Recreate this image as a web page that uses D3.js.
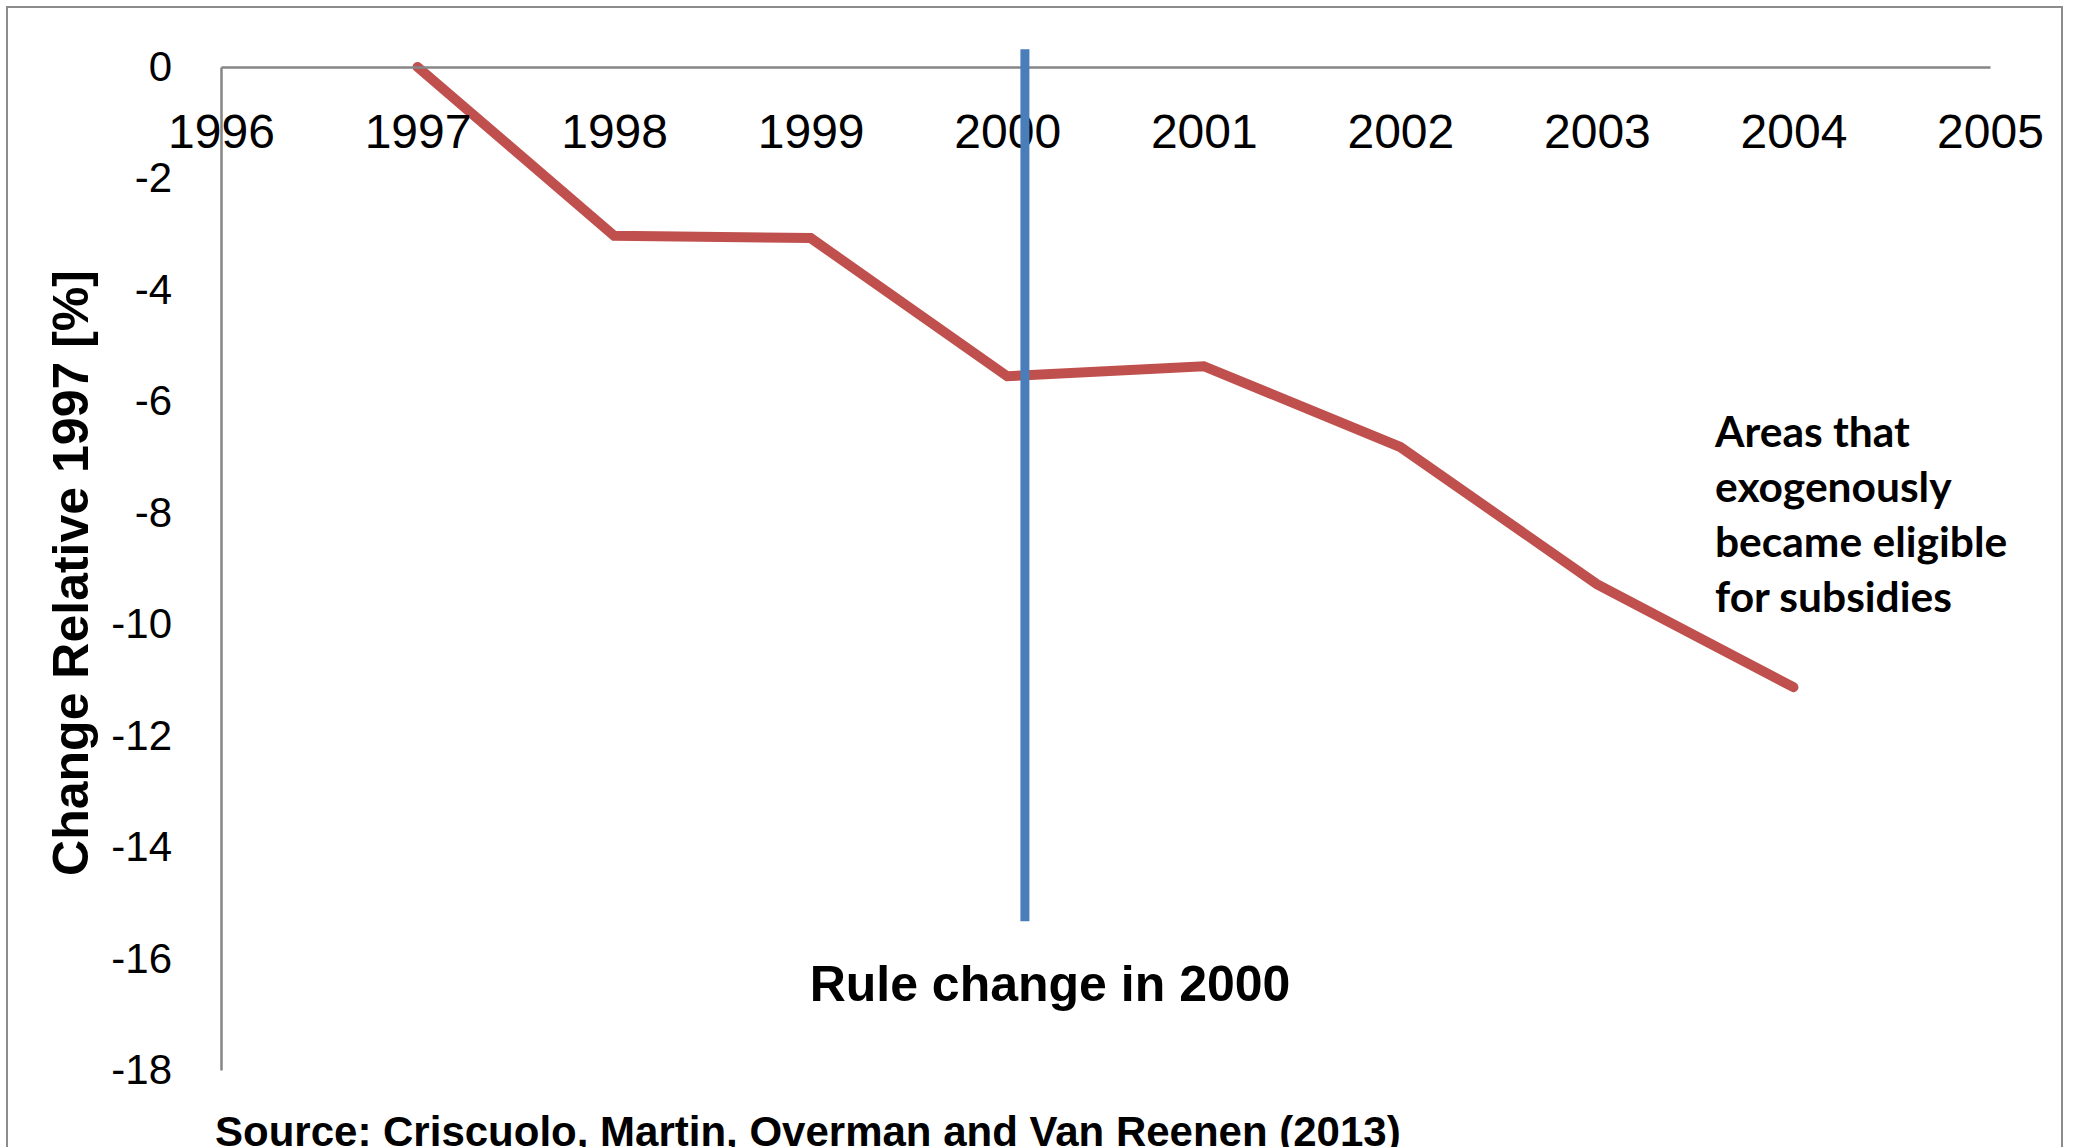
<!DOCTYPE html>
<html>
<head>
<meta charset="utf-8">
<script src="https://cdn.jsdelivr.net/npm/d3@7"></script>
<style>
  html, body { margin: 0; padding: 0; background: #fff; }
  svg { display: block; }
</style>
</head>
<body>
<svg id="chart" width="2073" height="1147"></svg>
<script>
// Employment change in subsidy-eligible areas, relative to 1997
const years = [1997, 1998, 1999, 2000, 2001, 2002, 2003, 2004];
const changePct = [0, -3.03, -3.07, -5.55, -5.37, -6.82, -9.28, -11.13];
const xTicks = [1996, 1997, 1998, 1999, 2000, 2001, 2002, 2003, 2004, 2005];
const yTicks = [0, -2, -4, -6, -8, -10, -12, -14, -16, -18];

// Vertical marker for the eligibility rule change
const ruleYear = [2000.09];
const ruleSpan = [0.32, -15.33];

const yTitle = "Change Relative 1997 [%]";
const ruleLabel = "Rule change in 2000";
const seriesNote = ["Areas that", "exogenously", "became eligible", "for subsidies"];
const sourceNote = "Source: Criscuolo, Martin, Overman and Van Reenen (2013)";

const svg = d3.select("#chart");

const x = d3.scaleLinear().domain([1996, 2005]).range([221, 1990]);
const y = d3.scaleLinear().domain([0, -18]).range([67, 1070]);

// outer frame
svg.append("rect")
  .attr("x", 7).attr("y", 7)
  .attr("width", 2055).attr("height", 1200)
  .attr("fill", "none").attr("stroke", "#8c8c8c").attr("stroke-width", 2);

const axisColor = "#868686";
const sans = "'Liberation Sans', Arial, sans-serif";

// red series line
const line = d3.line().x((d, i) => x(years[i])).y(d => y(d));
svg.append("path")
  .datum(changePct)
  .attr("d", line)
  .attr("fill", "none")
  .attr("stroke", "#c0504d")
  .attr("stroke-width", 10)
  .attr("stroke-linejoin", "miter")
  .attr("stroke-linecap", "round");

// x axis along the zero line, labels below it
const xAxis = d3.axisBottom(x).tickValues(xTicks).tickFormat(d => String(d)).tickSize(0).tickPadding(0);
const gx = svg.append("g").attr("transform", `translate(0,${y(0)})`).call(xAxis);
gx.select(".domain").attr("stroke", axisColor).attr("stroke-width", 2.5);
gx.selectAll(".tick text")
  .attr("font-family", sans).attr("font-size", 48).attr("fill", "#000")
  .attr("dy", null).attr("y", 148 - y(0));

// y axis
const yAxis = d3.axisLeft(y).tickValues(yTicks).tickFormat(d => String(d)).tickSize(0).tickPadding(49);
const gy = svg.append("g").attr("transform", `translate(${x(1996)},0)`).call(yAxis);
gy.select(".domain").attr("stroke", axisColor).attr("stroke-width", 2.5);
gy.selectAll(".tick text")
  .attr("font-family", sans).attr("font-size", 42).attr("fill", "#000");

// rule-change marker
svg.append("line")
  .attr("x1", x(ruleYear[0])).attr("x2", x(ruleYear[0]))
  .attr("y1", y(ruleSpan[0])).attr("y2", y(ruleSpan[1]))
  .attr("stroke", "#4a7ebb").attr("stroke-width", 9);

// y axis title
svg.append("text")
  .attr("transform", `translate(88,573) rotate(-90)`)
  .attr("text-anchor", "middle")
  .attr("font-family", sans).attr("font-weight", "bold").attr("font-size", 50)
  .text(yTitle);

// rule label
svg.append("text")
  .attr("x", 1050).attr("y", 1001)
  .attr("text-anchor", "middle")
  .attr("font-family", sans).attr("font-weight", "bold").attr("font-size", 50)
  .text(ruleLabel);

// series note
svg.append("text")
  .attr("font-family", "Lato, 'Open Sans', sans-serif").attr("font-weight", "bold").attr("font-size", 42.5)
  .selectAll("tspan").data(seriesNote).join("tspan")
  .attr("x", 1715).attr("y", (d, i) => 447 + i * 55)
  .text(d => d);

// source
svg.append("text")
  .attr("x", 215).attr("y", 1146)
  .attr("font-family", sans).attr("font-weight", "bold").attr("font-size", 42)
  .text(sourceNote);
</script>
</body>
</html>
